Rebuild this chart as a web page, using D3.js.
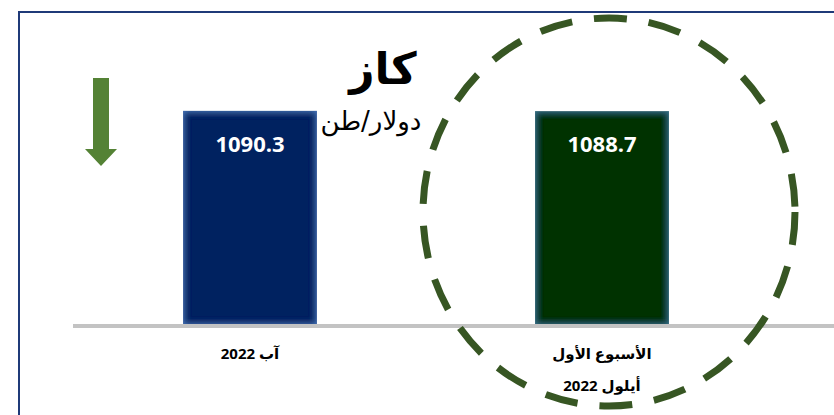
<!DOCTYPE html>
<html>
<head>
<meta charset="utf-8">
<script src="https://cdn.jsdelivr.net/npm/d3@7"></script>
<style>
  html, body { margin: 0; padding: 0; background: #fff; }
  svg { display: block; }
</style>
</head>
<body>
<div id="chart"></div>
<script>
// chart data
const categories = ["آب 2022", "الأسبوع الأول|أيلول 2022"];
const values = [1090.3, 1088.7];
const barColors = ["#002060", "#003300"];
const glowColors = ["#4a7cc4", "#3d7a98"];
const titleText = "كاز";
const unitText = "دولار/طن";

const width = 834, height = 415;

const svg = d3.select("#chart").append("svg")
  .attr("width", width)
  .attr("height", height);

const defs = svg.append("defs");

// soft inner glow on the bars
glowColors.forEach((c, i) => {
  const f = defs.append("filter")
    .attr("id", "glow" + i)
    .attr("x", "-10%").attr("y", "-10%")
    .attr("width", "120%").attr("height", "120%");
  f.append("feFlood").attr("flood-color", c).attr("result", "flood");
  f.append("feComposite").attr("in", "flood").attr("in2", "SourceAlpha")
    .attr("operator", "out").attr("result", "outside");
  f.append("feGaussianBlur").attr("in", "outside").attr("stdDeviation", 3.5).attr("result", "blur");
  f.append("feComposite").attr("in", "blur").attr("in2", "SourceAlpha")
    .attr("operator", "in").attr("result", "inner");
  const m = f.append("feMerge");
  m.append("feMergeNode").attr("in", "SourceGraphic");
  m.append("feMergeNode").attr("in", "inner");
});

// frame (only top and left edges visible)
svg.append("rect")
  .attr("x", 19).attr("y", 12)
  .attr("width", 900).attr("height", 500)
  .attr("fill", "none")
  .attr("stroke", "#1f3a78")
  .attr("stroke-width", 2);

// scales
const x = d3.scaleBand()
  .domain(categories)
  .range([74, 778])
  .paddingInner(0.62)
  .paddingOuter(0.31);

const y = d3.scaleLinear()
  .domain([0, 1100])
  .range([325, 109]);

// bars
svg.selectAll("rect.bar")
  .data(values)
  .enter()
  .append("rect")
  .attr("class", "bar")
  .attr("x", (d, i) => x(categories[i]))
  .attr("y", d => y(d))
  .attr("width", x.bandwidth())
  .attr("height", d => y(0) - y(d))
  .attr("fill", (d, i) => barColors[i])
  .attr("filter", (d, i) => `url(#glow${i})`);

// baseline
svg.append("line")
  .attr("x1", 73).attr("x2", width)
  .attr("y1", y(0) + 1).attr("y2", y(0) + 1)
  .attr("stroke", "#c3c3c3")
  .attr("stroke-width", 4);

// value labels
svg.selectAll("text.value")
  .data(values)
  .enter()
  .append("text")
  .attr("class", "value")
  .attr("x", (d, i) => x(categories[i]) + x.bandwidth() / 2)
  .attr("y", d => y(d) + 41)
  .attr("text-anchor", "middle")
  .attr("fill", "#fff")
  .attr("font-family", "'Open Sans', sans-serif")
  .attr("font-weight", "bold")
  .attr("font-size", 22)
  .text(d => d.toFixed(1));

// category labels (lines split on "|")
categories.forEach(c => {
  const t = svg.append("text")
    .attr("text-anchor", "middle")
    .attr("direction", "rtl")
    .attr("font-family", "'Open Sans', 'DejaVu Sans', sans-serif")
    .attr("font-weight", "bold")
    .attr("font-size", 15)
    .attr("fill", "#000");
  c.split("|").forEach((line, j) => {
    t.append("tspan")
      .attr("x", x(c) + x.bandwidth() / 2)
      .attr("y", 359 + j * 32)
      .text(line);
  });
});

// title and unit
svg.append("text")
  .attr("x", 383).attr("y", 84)
  .attr("text-anchor", "middle")
  .attr("direction", "rtl")
  .attr("font-family", "'DejaVu Sans', sans-serif")
  .attr("font-weight", "bold")
  .attr("font-size", 44)
  .text(titleText);

svg.append("text")
  .attr("x", 371).attr("y", 130)
  .attr("text-anchor", "middle")
  .attr("direction", "rtl")
  .attr("font-family", "'DejaVu Sans', sans-serif")
  .attr("font-size", 26)
  .text(unitText);

// down arrow (price fell)
const ax = 101, aTop = 78, aTip = 166;
svg.append("path")
  .attr("d", `M${ax - 8},${aTop} H${ax + 8} V${aTip - 17} H${ax + 16} L${ax},${aTip} L${ax - 16},${aTip - 17} H${ax - 8} Z`)
  .attr("fill", "#548235");

// dashed highlight around the latest value
const cx = x(categories[1]) + x.bandwidth() / 2 + 7;
svg.append("ellipse")
  .attr("cx", cx).attr("cy", 212)
  .attr("rx", 186).attr("ry", 194)
  .attr("fill", "none")
  .attr("stroke", "#375623")
  .attr("stroke-width", 7)
  .attr("stroke-dasharray", "33 22");
</script>
</body>
</html>
